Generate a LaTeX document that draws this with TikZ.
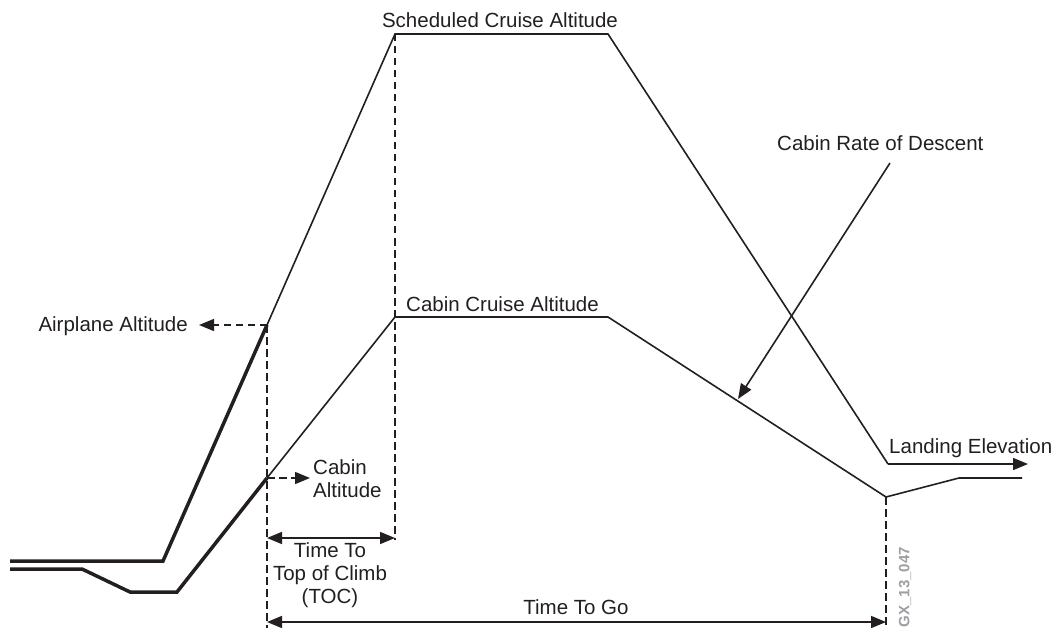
\documentclass[tikz,border=0pt]{standalone}
\usepackage{fontspec}
\setmainfont{Liberation Sans}
\usetikzlibrary{arrows.meta}
\definecolor{ink}{HTML}{231F20}
\definecolor{gxgray}{HTML}{9D9FA2}
\begin{document}
\begin{tikzpicture}[x=1pt,y=-1pt,
  thinline/.style={line width=1.6pt, draw=ink, line join=miter},
  thickline/.style={line width=3.5pt, draw=ink, line join=miter},
  guide/.style={line width=1.5pt, draw=ink, dash pattern=on 7.5pt off 4.5pt},
  tip/.style={-{Triangle[length=15pt,width=12pt]}},
  dtip/.style={{Triangle[length=15pt,width=12pt]}-{Triangle[length=15pt,width=12pt]}},
  lbl/.style={font=\fontsize{20.5}{23}\selectfont, text=ink, inner sep=0pt}]
\useasboundingbox (0,0) rectangle (1059,628);
% airplane altitude profile
\coordinate (a0) at (10,561);
\coordinate (a1) at (163,561);
\coordinate (a2) at (267,325);
\coordinate (a3) at (395,34);
\coordinate (a4) at (608,34);
\coordinate (a5) at (888,464);
\coordinate (a6) at (1028,464);
% cabin altitude profile
\coordinate (c0) at (10,569);
\coordinate (c1) at (82,569);
\coordinate (c2) at (130,592);
\coordinate (c3) at (177,592);
\coordinate (c4) at (267,478);
\coordinate (c5) at (395,317);
\coordinate (c6) at (608,317);
\coordinate (c7) at (886,497);
\coordinate (c8) at (959,478);
\coordinate (c9) at (1022,478);
% guide line ends
\coordinate (g1) at (267,628);
\coordinate (g2) at (395,540);
\coordinate (g3) at (886,628);
\coordinate (toc0) at (267,538);
\coordinate (toc1) at (395,538);
\coordinate (go0) at (267,622);
\coordinate (go1) at (886,622);
\coordinate (rd0) at (890,163);
\coordinate (rd1) at (738,399);

% labels
\node[lbl, anchor=base] (sca) at (500,28) {Scheduled Cruise Altitude};
\node[lbl, anchor=base west] (cca) at (406,311) {Cabin Cruise Altitude};
\node[lbl, anchor=base east] (aal) at (188,331) {Airplane Altitude};
\node[lbl, anchor=north west, align=left] (cal) at (313,459) {Cabin\\Altitude};
\node[lbl, anchor=north, align=center] (toc) at (330,542) {Time To\\Top of Climb\\(TOC)};
\node[lbl, anchor=base] (ttg) at (576,614) {Time To Go};
\node[lbl, anchor=base west] (lel) at (889,453) {Landing Elevation};
\node[lbl, anchor=base west] (crd) at (777,151) {Cabin Rate of Descent};
\node[rotate=90, inner sep=0pt, text=gxgray, font=\fontsize{15}{17}\selectfont\bfseries] (gx) at (905,587) {GX\_13\_047};

% guides
\draw[guide] (a2) -- (g1);
\draw[guide] (a3) -- (g2);
\draw[guide] (c7) -- (g3);

% profiles
\draw[thickline] (a0) -- (a1) -- (a2);
\draw[thinline] (a2) -- (a3) -- (a4) -- (a5);
\draw[thinline, tip] (a5) -- (a6);
\draw[thickline] (c0) -- (c1) -- (c2) -- (c3) -- (c4);
\draw[thinline] (c4) -- (c5) -- (c6) -- (c7) -- (c8) -- (c9);

% pointers
\draw[guide, tip, shorten >=11pt] (a2) -- (a2 -| aal.east);
\draw[guide, tip, shorten >=3pt] (c4) -- (c4 -| cal.west);
\draw[thinline, tip] (rd0) -- (rd1);
\draw[thinline, dtip] (toc0) -- (toc1);
\draw[thinline, dtip] (go0) -- (go1);
\end{tikzpicture}
\end{document}
